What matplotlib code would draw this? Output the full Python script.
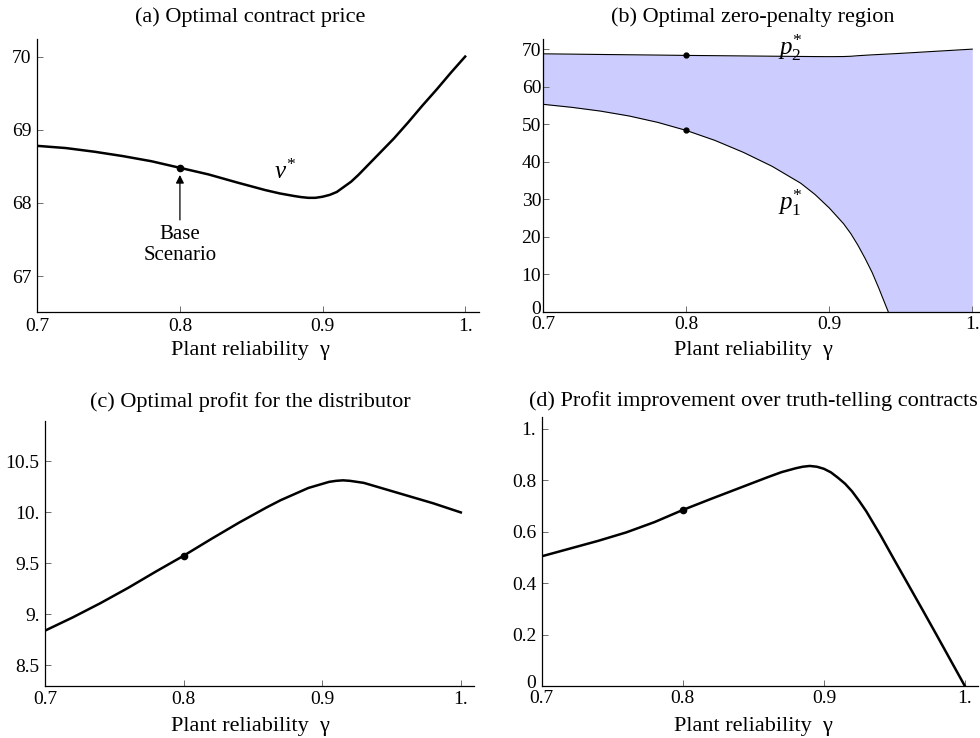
import matplotlib
matplotlib.use("Agg")
import matplotlib.pyplot as plt
from matplotlib.transforms import ScaledTranslation

plt.rcParams['font.family'] = ['Liberation Serif', 'DejaVu Serif']
plt.rcParams['mathtext.fontset'] = 'custom'
plt.rcParams['mathtext.rm'] = 'Liberation Serif'
plt.rcParams['mathtext.it'] = 'Liberation Serif:italic'
plt.rcParams['lines.solid_joinstyle'] = 'round'

# (a) optimal contract price v*
gam_a = [0.70, 0.72, 0.74, 0.76, 0.78, 0.80, 0.82, 0.84, 0.86, 0.87, 0.88, 0.885, 0.89, 0.895,
         0.90, 0.905, 0.91, 0.915, 0.92, 0.925, 0.93, 0.94, 0.95, 0.96, 0.97, 0.98, 0.99, 1.00]
v_star = [68.78, 68.75, 68.70, 68.64, 68.57, 68.48, 68.39, 68.28, 68.175, 68.13, 68.095, 68.08, 68.07, 68.07,
          68.085, 68.11, 68.15, 68.22, 68.29, 68.38, 68.48, 68.68, 68.88, 69.10, 69.33, 69.55, 69.78, 70.00]

# (b) zero-penalty region, p1* and p2*
gam_b = [0.70, 0.72, 0.74, 0.76, 0.78, 0.80, 0.82, 0.84, 0.86, 0.88, 0.89, 0.90,
         0.91, 0.915, 0.92, 0.925, 0.93, 0.935, 0.9375, 0.9413, 0.95, 0.96, 0.97, 0.98, 0.99, 1.00]
p1_star = [55.3, 54.5, 53.5, 52.2, 50.5, 48.35, 45.7, 42.5, 38.8, 34.3, 31.3, 27.7,
           23.5, 20.9, 17.8, 14.3, 10.5, 6.0, 3.6, 0.0, 0.0, 0.0, 0.0, 0.0, 0.0, 0.0]
p2_star = [68.75, 68.67, 68.58, 68.50, 68.42, 68.33, 68.26, 68.19, 68.12, 68.05, 68.02, 68.00,
           68.03, 68.10, 68.25, 68.37, 68.48, 68.58, 68.63, 68.70, 68.88, 69.10, 69.33, 69.55, 69.78, 70.00]

# (c) distributor profit
gam_c = [0.70, 0.72, 0.74, 0.76, 0.78, 0.80, 0.82, 0.84, 0.86, 0.87, 0.88, 0.89,
         0.90, 0.905, 0.91, 0.915, 0.92, 0.925, 0.93, 0.94, 0.95, 0.96, 0.97, 0.98, 0.99, 1.00]
profit = [8.84, 8.97, 9.11, 9.26, 9.42, 9.575, 9.74, 9.90, 10.05, 10.12, 10.18, 10.24,
          10.28, 10.30, 10.31, 10.315, 10.31, 10.30, 10.29, 10.25, 10.21, 10.17, 10.13, 10.09, 10.045, 10.00]

# (d) improvement over truth-telling contracts
gam_d = [0.70, 0.72, 0.74, 0.76, 0.78, 0.80, 0.82, 0.84, 0.86, 0.87, 0.88, 0.885, 0.89, 0.895,
         0.90, 0.905, 0.91, 0.915, 0.92, 0.925, 0.93, 0.94, 0.95, 0.96, 0.97, 0.98, 0.99, 1.00]
improve = [0.505, 0.535, 0.565, 0.598, 0.638, 0.685, 0.728, 0.770, 0.812, 0.832, 0.847, 0.853, 0.856, 0.853,
           0.845, 0.831, 0.810, 0.787, 0.757, 0.720, 0.680, 0.588, 0.490, 0.393, 0.296, 0.198, 0.099, 0.000]

base_gam = 0.8
base_a = 68.48
base_p1 = 48.35
base_p2 = 68.33
base_c = 9.575
base_d = 0.685

xticks = [0.7, 0.8, 0.9, 1.0]
xticklabels = ["0.7", "0.8", "0.9", "1."]

W, H = 980, 738
fig = plt.figure(figsize=(W / 100, H / 100), dpi=100)


def px_axes(left, right, top, bottom):
    return fig.add_axes([left / W, 1 - bottom / H, (right - left) / W, (bottom - top) / H])


def style(ax, xpad, ypad):
    for s in ['top', 'right']:
        ax.spines[s].set_visible(False)
    for s in ['left', 'bottom']:
        ax.spines[s].set_linewidth(0.9)
    ax.tick_params(direction='in', length=4, width=0.6, color='#555555', labelsize=14)
    ax.tick_params(axis='x', pad=xpad)
    ax.tick_params(axis='y', pad=ypad)
    ax.set_xticks(xticks)
    ax.set_xticklabels(xticklabels)


def lift_zero_label(ax, pts=3.5):
    # the "0" on y sits right on the x axis, nudge it up like the original
    lab = ax.get_yticklabels()[0]
    lab.set_transform(lab.get_transform() + ScaledTranslation(0, pts / 72, fig.dpi_scale_trans))


def fig_text(x, y, s, **kw):
    fig.text(x / W, 1 - y / H, s, ha='center', va='center', **kw)


xlab = "Plant reliability  \u03b3"

# (a)
ax = px_axes(37.3, 479, 39, 312)
ax.plot(gam_a, v_star, color='k', lw=1.8)
ax.plot([base_gam], [base_a], 'o', color='k', ms=4.5)
ax.set_xlim(0.7, 1.0097)
ax.set_ylim(66.51, 70.24)
ax.set_yticks([67, 68, 69, 70])
ax.annotate("", xy=(base_gam, 68.42), xytext=(base_gam, 67.73),
            arrowprops=dict(arrowstyle='-|>', color='k', lw=0.9, mutation_scale=12))
ax.text(base_gam, 67.43, "Base\nScenario", ha='center', va='center', fontsize=15, linespacing=1.15)
ax.text(0.874, 68.43, r"$v^{*}$", ha='center', va='center', fontsize=18)
style(ax, 4, 4)
fig_text(250, 17, "(a) Optimal contract price", fontsize=16)
fig_text(250, 350, xlab, fontsize=16)

# (b)
ax = px_axes(543.3, 980, 39, 312)
ax.fill_between(gam_b, p1_star, p2_star, color='#ccccff', lw=0)
n_pos = p1_star.index(0.0) + 1
ax.plot(gam_b[:n_pos], p1_star[:n_pos], color='k', lw=0.8)
ax.plot(gam_b, p2_star, color='k', lw=0.8)
ax.plot([base_gam, base_gam], [base_p1, base_p2], 'o', color='k', ms=3.5)
ax.set_xlim(0.7, 1.0054)
ax.set_ylim(0, 72.7)
ax.set_yticks(range(0, 71, 10))
ax.text(0.8725, 70.5, r"$p_2^{*}$", ha='center', va='center', fontsize=18)
ax.text(0.8725, 29.1, r"$p_1^{*}$", ha='center', va='center', fontsize=18)
style(ax, 3, 1.5)
lift_zero_label(ax)
fig_text(753, 17, "(b) Optimal zero-penalty region", fontsize=16)
fig_text(753, 350, xlab, fontsize=16)

# (c)
ax = px_axes(45, 474, 420.7, 685.7)
ax.plot(gam_c, profit, color='k', lw=1.8)
ax.plot([base_gam], [base_c], 'o', color='k', ms=4.5)
ax.set_xlim(0.7, 1.0095)
ax.set_ylim(8.30, 10.9)
ax.set_yticks([8.5, 9.0, 9.5, 10.0, 10.5])
ax.set_yticklabels(["8.5", "9.", "9.5", "10.", "10.5"])
style(ax, 4, 4)
fig_text(250, 402, "(c) Optimal profit for the distributor", fontsize=16)
fig_text(250, 726, xlab, fontsize=16)

# (d)
ax = px_axes(541.7, 978, 417.3, 686.3)
ax.plot(gam_d, improve, color='k', lw=1.8)
ax.plot([base_gam], [base_d], 'o', color='k', ms=4.5)
ax.set_xlim(0.7, 1.0092)
ax.set_ylim(0, 1.045)
ax.set_yticks([0, 0.2, 0.4, 0.6, 0.8, 1.0])
ax.set_yticklabels(["0", "0.2", "0.4", "0.6", "0.8", "1."])
style(ax, 3, 4)
lift_zero_label(ax)
fig_text(753, 401, "(d) Profit improvement over truth-telling contracts", fontsize=16)
fig_text(753, 726, xlab, fontsize=16)

fig.savefig("out.png", dpi=100)
